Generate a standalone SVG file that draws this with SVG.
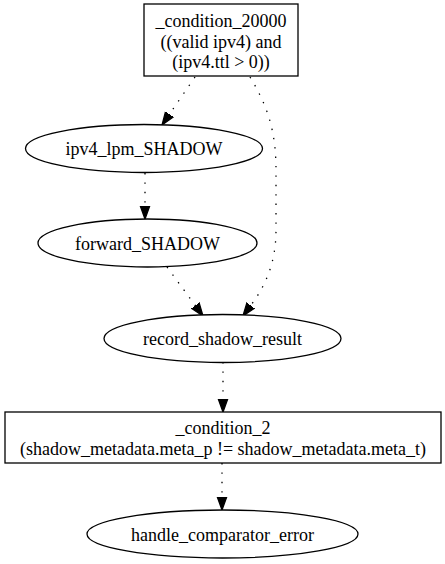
<svg xmlns="http://www.w3.org/2000/svg" width="445" height="564" viewBox="0 0 445 564">
<defs>
<style>
.n{fill:#fff;stroke:#000;stroke-width:1.3}
.t{font-family:"Liberation Serif","Times New Roman",serif;font-size:18px;text-anchor:middle;fill:#000}
.e{fill:none;stroke:#000;stroke-width:1.3;stroke-dasharray:1.4,8}
</style>
<marker id="ah" markerUnits="userSpaceOnUse" markerWidth="16" markerHeight="12" refX="0" refY="6" orient="auto" viewBox="0 0 16 12">
<path d="M0,1.3 L13,6 L0,10.7 z" fill="#000" stroke="#000" stroke-width="1.3"/>
</marker>
</defs>
<rect width="445" height="564" fill="#fff"/>
<g id="edges">
<path class="e" d="M195,77 L169.4,114.3" marker-end="url(#ah)"/>
<path class="e" d="M145,173 L145,206" marker-end="url(#ah)"/>
<path class="e" d="M167,267 L195.3,305.5" marker-end="url(#ah)"/>
<path class="e" d="M250,77 C267,105 276,130 276,170 L276,230 C276,262 266,285 250.7,305.5" marker-end="url(#ah)"/>
<path class="e" d="M223,362 L223,399" marker-end="url(#ah)"/>
<path class="e" d="M222,463 L222,497" marker-end="url(#ah)"/>
</g>
<g id="cond20000">
<rect class="n" x="144" y="4" width="154" height="72"/>
<text class="t" x="221" y="27">_condition_20000</text>
<text class="t" x="221" y="47.5">((valid ipv4) and</text>
<text class="t" x="221" y="68">(ipv4.ttl &gt; 0))</text>
</g>
<g id="ipv4_lpm_SHADOW">
<ellipse class="n" cx="144" cy="148.5" rx="118.5" ry="24"/>
<text class="t" x="144" y="155">ipv4_lpm_SHADOW</text>
</g>
<g id="forward_SHADOW">
<ellipse class="n" cx="147.5" cy="243" rx="109.5" ry="24"/>
<text class="t" x="147.5" y="249.5">forward_SHADOW</text>
</g>
<g id="record_shadow_result">
<ellipse class="n" cx="222.5" cy="338.5" rx="118.5" ry="24"/>
<text class="t" x="222.5" y="345">record_shadow_result</text>
</g>
<g id="cond2">
<rect class="n" x="5" y="412" width="436" height="51"/>
<text class="t" x="223" y="433.5">_condition_2</text>
<text class="t" x="223" y="455">(shadow_metadata.meta_p != shadow_metadata.meta_t)</text>
</g>
<g id="handle_comparator_error">
<ellipse class="n" cx="222.5" cy="534" rx="135.5" ry="24"/>
<text class="t" x="222.5" y="540.5">handle_comparator_error</text>
</g>
</svg>
